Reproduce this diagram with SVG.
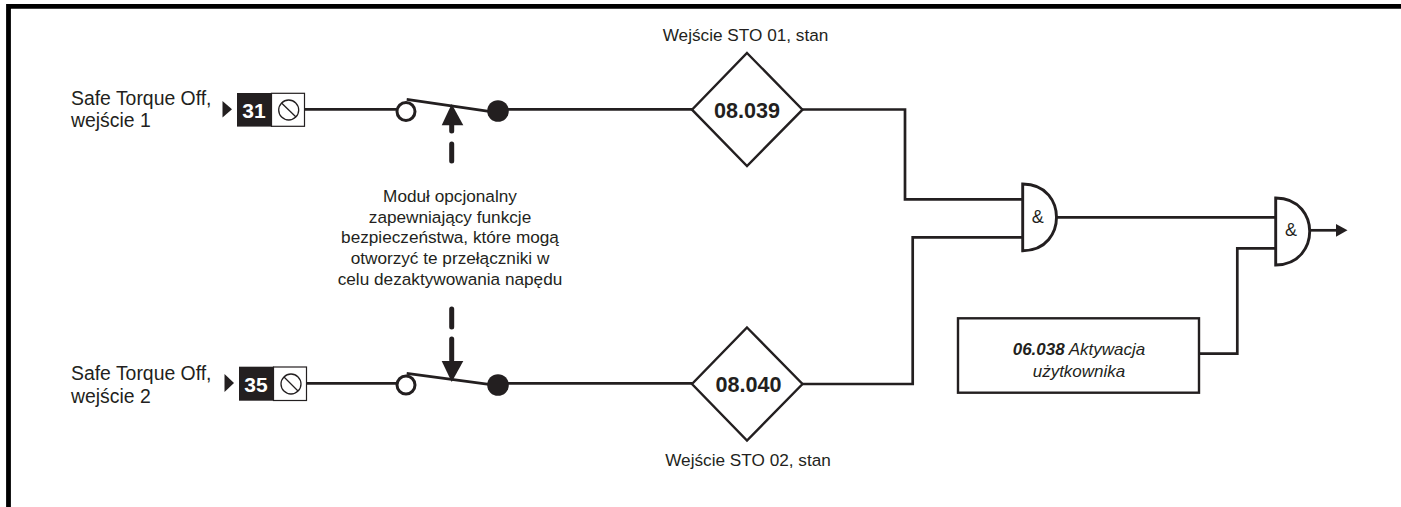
<svg xmlns="http://www.w3.org/2000/svg" width="1401" height="507" viewBox="0 0 1401 507">
<style>
text{font-family:"Liberation Sans",Arial,sans-serif;fill:#231f20}
.m{text-anchor:middle}
.l{font-size:19.4px}
.s{font-size:17.2px;text-anchor:middle}
.u{font-size:17px;text-anchor:middle;font-style:italic}
.a{font-size:18px;text-anchor:middle}
.w{fill:none;stroke:#231f20;stroke-width:2.7}
.o{fill:none;stroke:#231f20;stroke-width:1.3}
.t{fill:#fff;stroke:#231f20;stroke-width:1.2}
.k{fill:#231f20}
.b{font-weight:bold}
.tn{font-weight:bold;font-size:21px;text-anchor:middle;fill:#fff}
.n{font-weight:bold;font-size:21.6px;text-anchor:middle}
.d{fill:#fff;stroke:#231f20;stroke-width:2.4}
.c{fill:#fff;stroke:#231f20;stroke-width:3}
.g{fill:#fff;stroke:#231f20;stroke-width:2.9}
.h{fill:none;stroke:#231f20;stroke-width:5;stroke-linecap:round}
</style>
<path id="frame" d="M1401 6.300H8.500V507" fill="none" stroke="#000" stroke-width="4.800"/>
<g id="connectors">
<path class="w" d="M305 109.300H397"/>
<path class="w" d="M406.700 99.300L489 111.300" stroke-width="2.200"/>
<path class="w" d="M498 109.300H692"/>
<path class="w" d="M802 109.500H905V199.300H1023"/>
<path class="w" d="M802 384H912.700V237.300H1023"/>
<path class="w" d="M1056 217.300H1276"/>
<path class="w" d="M1199 353.700H1237.300V248.300H1276"/>
<path class="w" d="M307 383.300H397"/>
<path class="w" d="M406.700 373.300L489 384.300"/>
<path class="w" d="M498 383.300H692"/>
<path class="w" d="M1310 230.300H1337" stroke-width="3"/>
<path class="k" d="M1336 224L1347.500 230.300L1336 236.700Z"/>
<path class="k" d="M451.700 104L463.300 125.300H441.700Z"/>
<path class="h" d="M451.700 125V131M451.700 144V161"/>
<path class="h" d="M451.700 309V327M451.700 339V360"/>
<path class="k" d="M441.700 361H463.300L451.700 382Z"/>
</g>
<g id="input-31">
<text x="71" y="105" class="l">Safe Torque Off,</text>
<text x="71" y="127" class="l">wejście 1</text>
<path class="k" d="M222.500 101L232 109.300L222.500 117.500Z"/>
<rect class="t" x="271.500" y="93.300" width="33" height="33"/>
<rect class="k" x="237" y="93" width="35" height="33.600"/>
<text x="254" y="117.500" class="tn">31</text>
<circle cx="288.700" cy="110" r="10" class="o"/>
<path class="o" d="M281.500 103L296 117"/>
</g>
<g id="input-35">
<text x="71" y="380" class="l">Safe Torque Off,</text>
<text x="71" y="403" class="l">wejście 2</text>
<path class="k" d="M224.500 374L234 383L224.500 392Z"/>
<rect class="t" x="273.500" y="367" width="33" height="33.500"/>
<rect class="k" x="239" y="366.700" width="35" height="34"/>
<text x="256" y="391.500" class="tn">35</text>
<circle cx="291" cy="384" r="10" class="o"/>
<path class="o" d="M284 377L298 391"/>
</g>
<g id="switch-1">
<circle cx="406" cy="111.500" r="9" class="c"/>
<circle cx="498" cy="111" r="10.800" class="k"/>
</g>
<g id="switch-2">
<circle cx="406" cy="385" r="9" class="c"/>
<circle cx="498" cy="385" r="10.800" class="k"/>
</g>
<g id="option-note">
<text x="450" y="202" class="s">Moduł opcjonalny</text>
<text x="450" y="222.500" class="s">zapewniający funkcje</text>
<text x="450" y="243" class="s">bezpieczeństwa, które mogą</text>
<text x="450" y="264" class="s">otworzyć te przełączniki w</text>
<text x="450" y="284.500" class="s">celu dezaktywowania napędu</text>
</g>
<g id="status-08-039">
<text x="745.500" y="40.500" class="s">Wejście STO 01, stan</text>
<path class="d" d="M747 53L802.500 109.700L747 166L692 109.700Z"/>
<text x="747" y="118" class="n">08.039</text>
</g>
<g id="status-08-040">
<text x="748" y="466" class="s">Wejście STO 02, stan</text>
<path class="d" d="M747 327.500L802.500 384L747 440.500L692 384Z"/>
<text x="748.500" y="391.700" class="n">08.040</text>
</g>
<g id="and-1">
<path class="g" d="M1022.700 184V250.700C1047 250.700 1056.500 232 1056.500 217.300C1056.500 202.500 1047 184 1022.700 184Z"/>
<text x="1037.700" y="223" class="a">&amp;</text>
</g>
<g id="and-2">
<path class="g" d="M1275.700 198V265C1300 265 1309.700 246 1309.700 231.300C1309.700 217 1300 198 1275.700 198Z"/>
<text x="1291" y="236" class="a">&amp;</text>
</g>
<g id="user-enable">
<rect x="958" y="318.300" width="241" height="74.400" fill="#fff" stroke="#231f20" stroke-width="2.400"/>
<text x="1079" y="355" class="u"><tspan class="b">06.038</tspan> Aktywacja</text>
<text x="1079" y="376.500" class="u">użytkownika</text>
</g>
</svg>
